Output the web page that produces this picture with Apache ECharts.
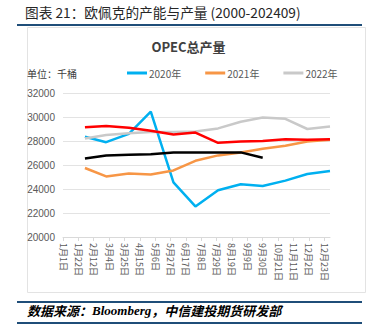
<!DOCTYPE html>
<html>
<head>
<meta charset="utf-8">
<script src="https://cdn.jsdelivr.net/npm/echarts@6/dist/echarts.min.js"></script>
<style>
html,body{margin:0;padding:0;background:#fff;}
#c{width:377px;height:334px;}
</style>
</head>
<body>
<div id="c"></div>
<script>
// ---- data ----
var tickLabels = ["1月1日","1月22日","2月12日","3月4日","3月25日","4月15日","5月6日","5月27日","6月17日","7月8日","7月29日","8月19日","9月9日","9月30日","10月21日","11月11日","12月2日","12月23日"];
var monthEnds = ["2020-01-31","2020-02-29","2020-03-31","2020-04-30","2020-05-31","2020-06-30","2020-07-31","2020-08-31","2020-09-30","2020-10-31","2020-11-30","2020-12-31"];
var s2020 = [28350,27900,28600,30450,24550,22550,23900,24400,24250,24700,25250,25500];
var s2021 = [25750,25050,25300,25200,25550,26350,26800,27050,27350,27600,27950,28100];
var s2022 = [28200,28500,28650,28750,28750,28800,29050,29600,29950,29850,29000,29200];
var s2023 = [29150,29250,29100,28850,28550,28700,27850,27950,28000,28150,28100,28150];
var s2024 = [26550,26800,26850,26900,27050,27050,27050,27050,26600];
var seriesNames = ["2020年","2021年","2022年","2023年","2024年"];
var legendNames = ["2020年","2021年","2022年"];

// ---- helpers ----
var dayStep = 21;
function dayOfYear(s){
  var p = s.split('-');
  return (Date.UTC(+p[0], +p[1]-1, +p[2]) - Date.UTC(+p[0],0,1)) / 86400000;
}
function pairs(vals){
  return vals.map(function(v,i){ return [dayOfYear(monthEnds[i]) , v]; });
}
var tickValues = tickLabels.map(function(_,i){ return i*dayStep; });

var colors = ["#00B0F0","#F79646","#C9C9C9","#FF0000","#000000"];
var allData = [s2020,s2021,s2022,s2023,s2024];

var chart = echarts.init(document.getElementById('c'), null, {renderer:'svg'});
var cjk = '"Noto Sans CJK SC", sans-serif';
chart.setOption({
  animation:false,
  color: colors,
  graphic:[
    {type:'text', left:25, top:5, style:{text:'图表 21：欧佩克的产能与产量 (2000-202409)', fill:'#262626', font:'13.7px "Noto Sans CJK SC"'}},
    {type:'rect', shape:{x:17,y:24,width:345,height:2}, style:{fill:'#1F4E79'}},
    {type:'rect', shape:{x:27.5,y:27.5,width:338,height:265}, style:{fill:'none', stroke:'#E3E3E3', lineWidth:1}, z:-1},
    {type:'text', left:27, top:68, style:{text:'单位：千桶', fill:'#404040', font:'10px "Noto Sans CJK SC"'}},
    {type:'rect', shape:{x:17,y:301,width:345,height:2}, style:{fill:'#1F4E79'}},
    {type:'text', left:27, top:304, style:{rich:{a:{fontFamily:'"Noto Sans CJK SC"', fontSize:13, fontWeight:'bold', fontStyle:'italic', fill:'#000'}, b:{fontFamily:'"Liberation Serif"', fontSize:13, fontWeight:'bold', fontStyle:'italic', fill:'#000'}}, text:'{a|数据来源：}{b|Bloomberg}{a|，中信建投期货研发部}'}},
    {type:'rect', shape:{x:17,y:322,width:345,height:2}, style:{fill:'#1F4E79'}}
  ],
  title:{text:'OPEC总产量', left:'center', top:35, textStyle:{fontFamily:cjk, fontSize:13, fontWeight:'bold', color:'#404040'}},
  legend:{data:legendNames, top:63, left:122, itemGap:24, itemWidth:20, itemHeight:3, icon:'rect',
    textStyle:{fontFamily:cjk, fontSize:10, color:'#595959', padding:[0,0,0,-3]}},
  grid:{left:63, right:47, top:93, bottom:97, containLabel:false},
  xAxis:{type:'value', min:0, max:365, interval:dayStep,
    axisLine:{show:true, lineStyle:{color:'#D9D9D9'}},
    axisTick:{show:true, length:4, lineStyle:{color:'#D9D9D9'}, customValues: tickValues},
    splitLine:{show:false},
    axisLabel:{customValues: tickValues, rotate:-90, fontSize:9, color:'#595959', fontFamily:cjk, margin:6,
      formatter:function(v){ var i = Math.round(v/dayStep); return tickLabels[i] || ''; }}
  },
  yAxis:{type:'value', min:20000, max:32000, interval:2000,
    axisLine:{show:false}, axisTick:{show:false},
    splitLine:{lineStyle:{color:'#E3E3E3'}},
    axisLabel:{fontSize:10, color:'#595959', fontFamily:'"Liberation Sans", Arial, sans-serif', margin:8,
      formatter:function(v){ return String(v); }}
  },
  series: allData.map(function(d,i){
    return {name:seriesNames[i], type:'line', data:pairs(d), showSymbol:false, symbol:'none',
      lineStyle:{width:2.5, color:colors[i]}, itemStyle:{color:colors[i]}, z: 2+i};
  })
});
</script>
</body>
</html>
